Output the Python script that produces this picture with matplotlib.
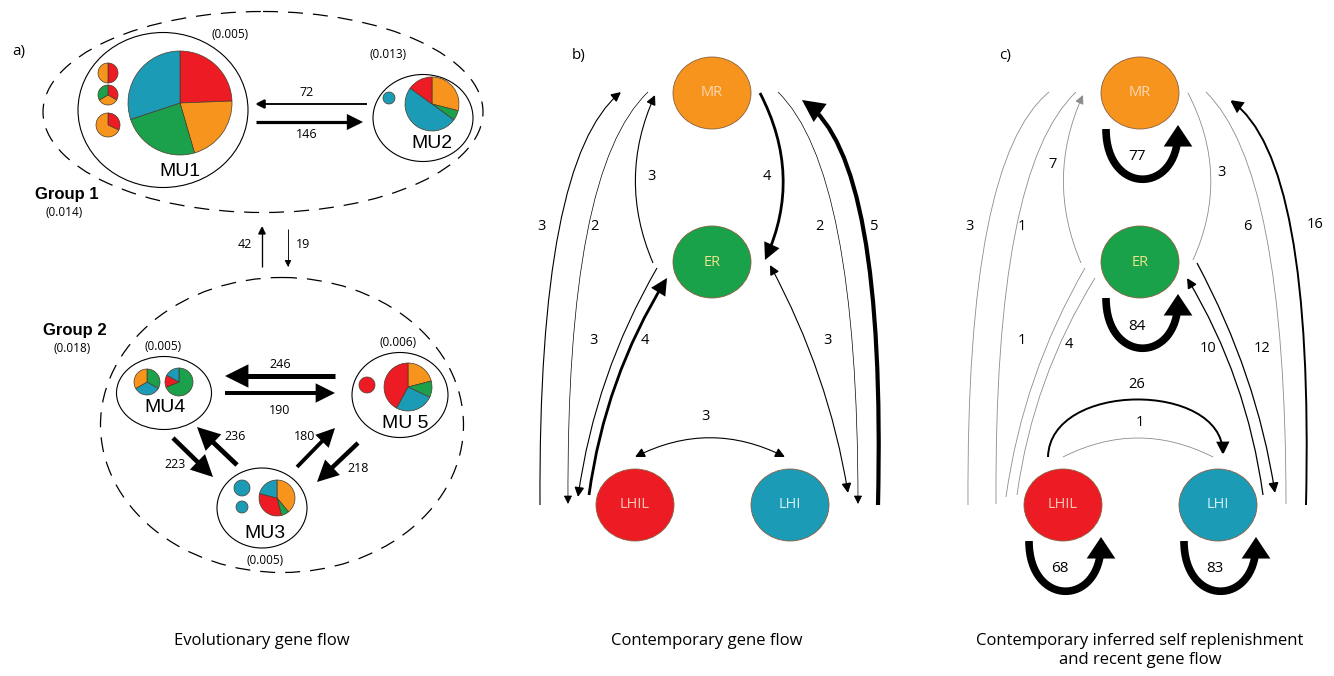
import matplotlib.pyplot as plt
from matplotlib.patches import Ellipse, Wedge, FancyArrowPatch
from matplotlib.path import Path

# ---- data -------------------------------------------------------------
hap_col = {'red': '#ED1C24', 'orange': '#F7941D', 'green': '#1BA14B', 'blue': '#1C9BB7'}

# a) haplotype pies (slices clockwise from 12 o'clock)
pie_names = ['mu1', 'mu1_s1', 'mu1_s2', 'mu1_s3', 'mu2', 'mu2_s1',
             'mu4_a', 'mu4_b', 'mu5', 'mu5_s1', 'mu3', 'mu3_s1', 'mu3_s2']
pie_haps = [['red', 'orange', 'green', 'blue'],
            ['red', 'orange'],
            ['red', 'orange', 'green'],
            ['red', 'orange'],
            ['orange', 'green', 'blue', 'red'],
            ['blue'],
            ['green', 'blue', 'orange'],
            ['green', 'red', 'blue'],
            ['orange', 'green', 'blue', 'red'],
            ['red'],
            ['orange', 'green', 'red', 'blue'],
            ['blue'],
            ['blue']]
pie_fracs = [[0.244, 0.211, 0.244, 0.301],
             [0.5, 0.5],
             [0.333, 0.334, 0.333],
             [0.32, 0.68],
             [0.29, 0.06, 0.50, 0.15],
             [1.0],
             [0.333, 0.334, 0.333],
             [0.69, 0.14, 0.17],
             [0.21, 0.11, 0.26, 0.42],
             [1.0],
             [0.39, 0.07, 0.33, 0.21],
             [1.0],
             [1.0]]

mu_names = ['MU1', 'MU2', 'MU4', 'MU5', 'MU3']
mu_labels = ['MU1', 'MU2', 'MU4', 'MU 5', 'MU3']
mu_div = ['(0.005)', '(0.013)', '(0.005)', '(0.006)', '(0.005)']
group_labels = ['Group 1', 'Group 2']
group_div = ['(0.014)', '(0.018)']

evo_src = ['MU2', 'MU1', 'G2', 'G1', 'MU5', 'MU4', 'MU4', 'MU3', 'MU3', 'MU5']
evo_dst = ['MU1', 'MU2', 'G1', 'G2', 'MU4', 'MU5', 'MU3', 'MU4', 'MU5', 'MU3']
evo_val = [72, 146, 42, 19, 246, 190, 223, 236, 180, 218]

# b) contemporary gene flow
sites = ['MR', 'ER', 'LHIL', 'LHI']
b_src = ['LHIL', 'MR', 'ER', 'MR', 'MR', 'LHI', 'ER', 'LHIL', 'ER', 'LHIL']
b_dst = ['MR', 'LHIL', 'MR', 'ER', 'LHI', 'MR', 'LHIL', 'ER', 'LHI', 'LHI']
b_val = [3, 2, 3, 4, 2, 5, 3, 4, 3, 3]
b_both = [False, False, False, False, False, False, False, False, True, True]

# c) self replenishment and recent gene flow
c_self = [77, 84, 68, 83]
c_src = ['LHIL', 'MR', 'ER', 'MR', 'MR', 'LHI', 'ER', 'LHIL', 'LHI', 'ER', 'LHIL', 'LHI']
c_dst = ['MR', 'LHIL', 'MR', 'ER', 'LHI', 'MR', 'LHIL', 'ER', 'ER', 'LHI', 'LHI', 'LHIL']
c_val = [3, 1, 7, 3, 6, 16, 1, 4, 10, 12, 26, 1]

captions = ['Evolutionary gene flow', 'Contemporary gene flow',
            'Contemporary inferred self replenishment\nand recent gene flow']

# ---- layout (pixel coordinates) ---------------------------------------
pie_pos = {'mu1': (180, 103, 52), 'mu1_s1': (108, 73, 10), 'mu1_s2': (108, 95, 10),
           'mu1_s3': (108, 125, 12), 'mu2': (432, 104, 27), 'mu2_s1': (389, 98, 6),
           'mu4_a': (147, 382, 13), 'mu4_b': (179, 382, 14), 'mu5': (408, 387, 24),
           'mu5_s1': (367, 385, 8), 'mu3': (277, 498, 18), 'mu3_s1': (242, 488, 8),
           'mu3_s2': (242, 507, 6)}
mu_shape = {'MU1': (163, 110, 170, 155), 'MU2': (423, 118, 100, 87),
            'MU4': (164, 393, 95, 73), 'MU5': (400, 395, 96, 85),
            'MU3': (262, 508, 90, 80)}
mu_lab_pos = {'MU1': (180, 172), 'MU2': (432, 143), 'MU4': (165, 408),
              'MU5': (405, 423), 'MU3': (265, 533)}
mu_div_pos = {'MU1': (230, 35), 'MU2': (388, 54), 'MU4': (163, 346),
              'MU5': (398, 342), 'MU3': (265, 560)}
group_shape = [(263, 112, 440, 201), (282, 425, 363, 295)]
group_lab_pos = [(67, 194), (75, 330)]

evo_geom = {
    ('MU2', 'MU1'): ((367, 104), (255, 104), (307, 92)),
    ('MU1', 'MU2'): ((256, 122), (363, 122), (307, 135)),
    ('G2', 'G1'): ((262, 267), (262, 226), (245, 245)),
    ('G1', 'G2'): ((288, 229), (288, 267), (303, 245)),
    ('MU5', 'MU4'): ((335, 376), (225, 376), (280, 365)),
    ('MU4', 'MU5'): ((225, 393), (335, 393), (280, 410)),
    ('MU4', 'MU3'): ((173, 438), (213, 477), (175, 465)),
    ('MU3', 'MU4'): ((237, 465), (197, 427), (235, 437)),
    ('MU3', 'MU5'): ((297, 467), (335, 428), (305, 437)),
    ('MU5', 'MU3'): ((358, 443), (317, 482), (358, 469)),
}

node_pos = {'MR': (712, 93), 'ER': (712, 262), 'LHIL': (635, 505), 'LHI': (790, 505)}
node_col = {'MR': '#F7941D', 'ER': '#1AA24A', 'LHIL': '#ED1C24', 'LHI': '#1C9BB7'}
node_txt = {'MR': '#FCD8B4', 'ER': '#EDE58C', 'LHIL': '#FBC8B8', 'LHI': '#D6EFF4'}

# start, end, control points, label position (panel b coordinates)
link_geom = {
    ('LHIL', 'MR'): ((540, 505), (621, 92), [(538, 160)], (542, 227)),
    ('MR', 'LHIL'): ((648, 92), (568, 504), [(566, 170)], (594, 227)),
    ('ER', 'MR'): ((653, 263), (655, 95), [(617, 179)], (651, 176)),
    ('MR', 'ER'): ((760, 93), (765, 260), [(803, 176)], (767, 176)),
    ('MR', 'LHI'): ((778, 92), (858, 504), [(858, 170)], (819, 227)),
    ('LHI', 'MR'): ((878, 505), (802, 100), [(886, 160)], (874, 227)),
    ('ER', 'LHIL'): ((657, 268), (578, 497), [(595, 375)], (594, 341)),
    ('LHIL', 'ER'): ((589, 495), (667, 278), [(605, 378)], (645, 341)),
    ('ER', 'LHI'): ((770, 265), (848, 493), [(829, 375)], (828, 341)),
    ('LHI', 'ER'): ((835, 495), (759, 278), [(819, 378)], (780, 349)),
    ('LHIL', 'LHI'): ((635, 457), (785, 457), [(710, 419)], (705, 417)),
    ('LHI', 'LHIL'): ((785, 457), (635, 457), [(710, 419)], (712, 423)),
}
c_shift = 428
c_special = {
    ('LHIL', 'LHI'): ((620, 457), (795, 455), [(622, 381), (794, 381)], (709, 385)),
    ('ER', 'LHI'): ((769, 263), (847, 493), [(829, 375)], (834, 349)),
}
# label positions in panel c that differ from panel b (panel b coordinates)
c_label = {('ER', 'MR'): (625, 165), ('MR', 'ER'): (794, 172),
           ('LHI', 'MR'): (887, 225), ('LHIL', 'ER'): (641, 345)}
b_width = {2: 0.5, 3: 0.8, 4: 2.0, 5: 3.0}


def pie(ax, cx, cy, r, fracs, haps):
    start = 90.0
    for f, h in zip(fracs, haps):
        span = 360.0 * f
        ax.add_patch(Wedge((cx, cy), r, -start, -start + span,
                           fc=hap_col[h], ec='#4a3a2a', lw=0.5))
        start -= span


def arrow(ax, p0, p1, ctrl, lw, color='black', style='-|>', ms=None, hl=0.8, hw=0.4):
    if not ctrl:
        verts, codes = [p0, p1], [Path.MOVETO, Path.LINETO]
    elif len(ctrl) == 1:
        verts, codes = [p0, ctrl[0], p1], [Path.MOVETO, Path.CURVE3, Path.CURVE3]
    else:
        verts = [p0, ctrl[0], ctrl[1], p1]
        codes = [Path.MOVETO, Path.CURVE4, Path.CURVE4, Path.CURVE4]
    if ms is None:
        ms = 3 + 3 * lw
    st = style if style == '-' else f'{style},head_length={hl},head_width={hw}'
    ax.add_patch(FancyArrowPatch(path=Path(verts, codes), arrowstyle=st,
                                 mutation_scale=ms, lw=lw, color=color,
                                 capstyle='butt', joinstyle='miter'))


fig = plt.figure(figsize=(13.34, 6.76), dpi=100, facecolor='white')
ax = fig.add_axes([0, 0, 1, 1])
ax.set_xlim(0, 1334)
ax.set_ylim(676, 0)
ax.axis('off')

num_font = 'Open Sans'
lab_font = 'Liberation Sans'

# ---- panel a ----
ax.text(12, 52, 'a)', fontsize=11, family=num_font, va='center')
for (cx, cy, w, h), lab, div, (lx, ly) in zip(group_shape, group_labels, group_div, group_lab_pos):
    ax.add_patch(Ellipse((cx, cy), w, h, fill=False, ec='black', lw=0.9, ls=(0, (12, 8))))
    ax.text(lx, ly, lab, fontsize=12, family=lab_font, weight='bold', ha='center', va='center')
    ax.text(lx - 3, ly + 19, div, fontsize=8.5, family=num_font, ha='center', va='center')

for name, lab, div in zip(mu_names, mu_labels, mu_div):
    cx, cy, w, h = mu_shape[name]
    ax.add_patch(Ellipse((cx, cy), w, h, fill=False, ec='black', lw=0.8))
    ax.text(*mu_lab_pos[name], lab, fontsize=14, family=lab_font, ha='center', va='center')
    ax.text(*mu_div_pos[name], div, fontsize=8.5, family=num_font, ha='center', va='center')

for name, haps, fracs in zip(pie_names, pie_haps, pie_fracs):
    cx, cy, r = pie_pos[name]
    pie(ax, cx, cy, r, fracs, haps)

for s, d, v in zip(evo_src, evo_dst, evo_val):
    p0, p1, lp = evo_geom[(s, d)]
    lw = 0.4 + v * 0.013
    arrow(ax, p0, p1, None, lw)
    ax.text(*lp, str(v), fontsize=9, family=num_font, ha='center', va='center')

# ---- nodes for b and c ----
for dx, lab in [(0, 'b)'), (c_shift, 'c)')]:
    ax.text(572 + dx - (1 if dx else 0), 55, lab, fontsize=11, family=num_font, va='center')
    for s in sites:
        x, y = node_pos[s]
        ax.add_patch(Ellipse((x + dx, y), 78, 72, fc=node_col[s], ec='#8a6040', lw=0.6))
        ax.text(x + dx, y, s, fontsize=10.5, family=num_font, color=node_txt[s],
                ha='center', va='center')

# ---- panel b links ----
for s, d, v, both in zip(b_src, b_dst, b_val, b_both):
    p0, p1, ctrl, lp = link_geom[(s, d)]
    lw = b_width[v]
    arrow(ax, p0, p1, ctrl, lw, style='<|-|>' if both else '-|>', ms=5 + 3 * lw,
          hl=0.8, hw=0.4)
    ax.text(*lp, str(v), fontsize=10.5, family=num_font, ha='center', va='center')

# ---- panel c links ----
for s, d, v in zip(c_src, c_dst, c_val):
    p0, p1, ctrl, lp = c_special.get((s, d), link_geom[(s, d)])
    lp = c_label.get((s, d), lp)
    sh = lambda p: (p[0] + c_shift, p[1])
    if v >= 10:
        lw, col = (1.4 if v > 12 else 0.9), 'black'
    else:
        lw, col = 0.6, '#8c8c8c'
    arrow(ax, sh(p0), sh(p1), [sh(c) for c in ctrl], lw, color=col,
          style='-|>' if (v >= 7) else '-', ms=5 + 3 * lw, hl=0.8, hw=0.4)
    ax.text(*sh(lp), str(v), fontsize=10.5, family=num_font, ha='center', va='center')

# self replenishment loops
for s, v in zip(sites, c_self):
    x, y = node_pos[s]
    x += c_shift
    x0, x1, y0, d = x - 34, x + 38, y + 36, 50
    arrow(ax, (x0, y0), (x1, y0 - 4), [(x0, y0 + 1.33 * d), (x1, y0 + 1.33 * d)],
          5.5, ms=13, hl=0.6, hw=0.4)
    ax.text(x - 3, y + 64, str(v), fontsize=11, family=num_font, ha='center', va='center')

# captions
for xc, cap in zip([262, 707, 1140], captions):
    ax.text(xc, 633, cap, fontsize=12, family=num_font, ha='center', va='top',
            linespacing=1.25)

fig.savefig('out.png', dpi=100, facecolor='white')
